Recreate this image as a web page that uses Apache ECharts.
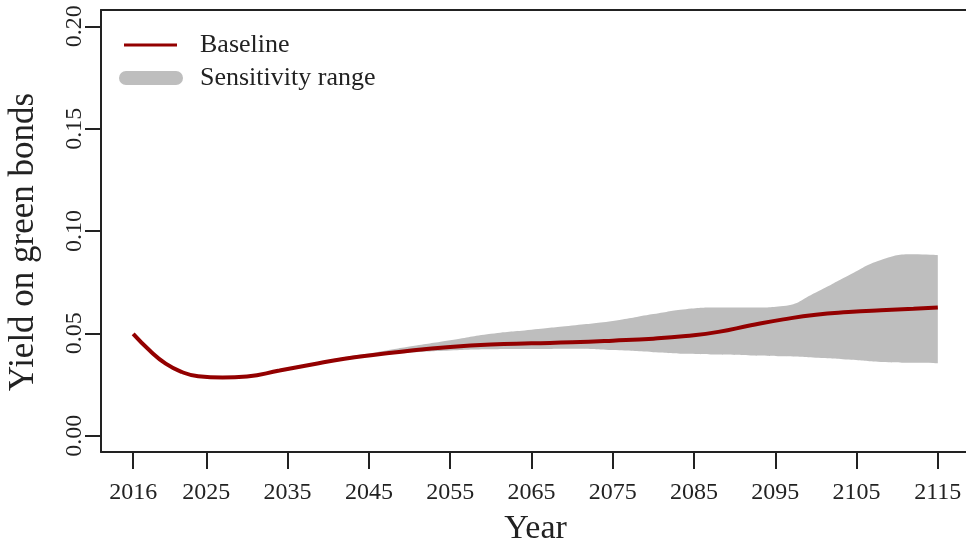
<!DOCTYPE html>
<html>
<head>
<meta charset="utf-8">
<script src="https://cdn.jsdelivr.net/npm/echarts@6/dist/echarts.min.js"></script>
<style>
  html, body { margin: 0; padding: 0; background: #fff; }
  #chart { width: 966px; height: 540px; }
</style>
</head>
<body>
<div id="chart"></div>
<script>
// data
const years = [2016, 2018, 2020, 2022, 2024, 2027, 2030, 2034, 2038, 2042, 2046, 2050, 2055, 2060,
  2065, 2070, 2075, 2080, 2084, 2088, 2092, 2096, 2100, 2104, 2108, 2112, 2115]
const baseline = [0.0497, 0.0417, 0.0352, 0.0311, 0.0290, 0.0284, 0.0289, 0.0318, 0.0348, 0.0376, 0.0396, 0.0415, 0.0433, 0.0445,
  0.0451, 0.0456, 0.0464, 0.0474, 0.0487, 0.0507, 0.0539, 0.0568, 0.0591, 0.0604, 0.0613, 0.0620, 0.0626]
const rangeLow = [0.0497, 0.0417, 0.0352, 0.0311, 0.0290, 0.0284, 0.0289, 0.0318, 0.0346, 0.0372, 0.0390, 0.0405, 0.0416, 0.0422,
  0.0423, 0.0425, 0.0418, 0.0408, 0.0400, 0.0396, 0.0392, 0.0388, 0.0381, 0.0372, 0.0360, 0.0356, 0.0354]
const rangeHigh = [0.0497, 0.0417, 0.0352, 0.0311, 0.0290, 0.0284, 0.0289, 0.0318, 0.0352, 0.0384, 0.0408, 0.0435, 0.0466, 0.0498,
  0.0518, 0.0538, 0.0560, 0.0594, 0.0618, 0.0626, 0.0626, 0.0634, 0.0700, 0.0782, 0.0858, 0.0886, 0.0882]
const xTicks = [2016, 2025, 2035, 2045, 2055, 2065, 2075, 2085, 2095, 2105, 2115]
const yTicks = [0, 0.05, 0.1, 0.15, 0.2]

const font = "'Liberation Serif', 'DejaVu Serif', serif"
const ink = '#222'
const red = '#930000'
const grey = '#bebebe'

const chart = echarts.init(document.getElementById('chart'))

// band rows are [value, year] so that the stack works on the value dimension
const lowRows = years.map((y, i) => [rangeLow[i], y])
const spanRows = years.map((y, i) => [+(rangeHigh[i] - rangeLow[i]).toFixed(4), y])
const baseRows = years.map((y, i) => [y, baseline[i]])

chart.setOption({
  animation: false,
  grid: { left: 101, right: -4, top: 10, bottom: 88, containLabel: false, outerBoundsMode: 'none' },
  legend: [
    {
      left: 124, top: 31, padding: 0,
      itemWidth: 53, itemHeight: 3,
      data: [{ name: 'Baseline', icon: 'rect', itemStyle: { color: red } }],
      textStyle: { fontFamily: font, fontSize: 26, color: ink, lineHeight: 28, padding: [0, 0, 0, 18] },
    },
    {
      left: 119, top: 64, padding: 0,
      itemWidth: 64, itemHeight: 14,
      data: [{ name: 'Sensitivity range', icon: 'path://M7,0 H57 A7,7 0 0 1 57,14 H7 A7,7 0 0 1 7,0 Z', itemStyle: { color: grey } }],
      textStyle: { fontFamily: font, fontSize: 26, color: ink, lineHeight: 28, padding: [0, 0, 0, 12] },
    },
  ],
  xAxis: [
    {
      type: 'value', min: 2012.04, max: 2118.96, z: 10,
      name: 'Year', nameLocation: 'middle', nameGap: 60,
      nameTextStyle: { fontFamily: font, fontSize: 34, color: ink },
      splitLine: { show: false },
      axisLine: { onZero: false, lineStyle: { color: ink, width: 2 } },
      axisTick: { customValues: xTicks, length: 17, lineStyle: { color: ink, width: 2 } },
      axisLabel: { customValues: xTicks, margin: 29, fontFamily: font, fontSize: 24, color: ink, formatter: v => String(v) },
    },
    {
      type: 'value', position: 'top', min: 2012.04, max: 2118.96, z: 10,
      splitLine: { show: false },
      axisLine: { show: true, onZero: false, lineStyle: { color: ink, width: 2 } },
      axisTick: { show: false }, axisLabel: { show: false },
    },
  ],
  yAxis: {
    type: 'value', min: -0.008, max: 0.208, z: 10,
    name: 'Yield on green bonds', nameLocation: 'middle', nameGap: 60,
    nameTextStyle: { fontFamily: font, fontSize: 35, color: ink, padding: [0, 22, 0, 0] },
    splitLine: { show: false },
    axisLine: { show: true, onZero: false, lineStyle: { color: ink, width: 2 } },
    axisTick: { customValues: yTicks, length: 16, lineStyle: { color: ink, width: 2 } },
    axisLabel: {
      customValues: yTicks, rotate: 90, margin: 14,
      fontFamily: font, fontSize: 24, color: ink,
      formatter: v => v.toFixed(2),
    },
  },
  series: [
    {
      name: 'low', type: 'line', stack: 'band', data: lowRows, encode: { x: 1, y: 0 },
      smooth: true, symbol: 'none', lineStyle: { width: 0 }, silent: true,
    },
    {
      name: 'Sensitivity range', type: 'line', stack: 'band', data: spanRows, encode: { x: 1, y: 0 },
      smooth: true, symbol: 'none', lineStyle: { width: 0 }, itemStyle: { color: grey },
      areaStyle: { color: grey, opacity: 1 },
    },
    {
      name: 'Baseline', type: 'line', data: baseRows, smooth: true, z: 5,
      symbol: 'none', itemStyle: { color: red }, lineStyle: { color: red, width: 4 },
    },
  ],
})
</script>
</body>
</html>
